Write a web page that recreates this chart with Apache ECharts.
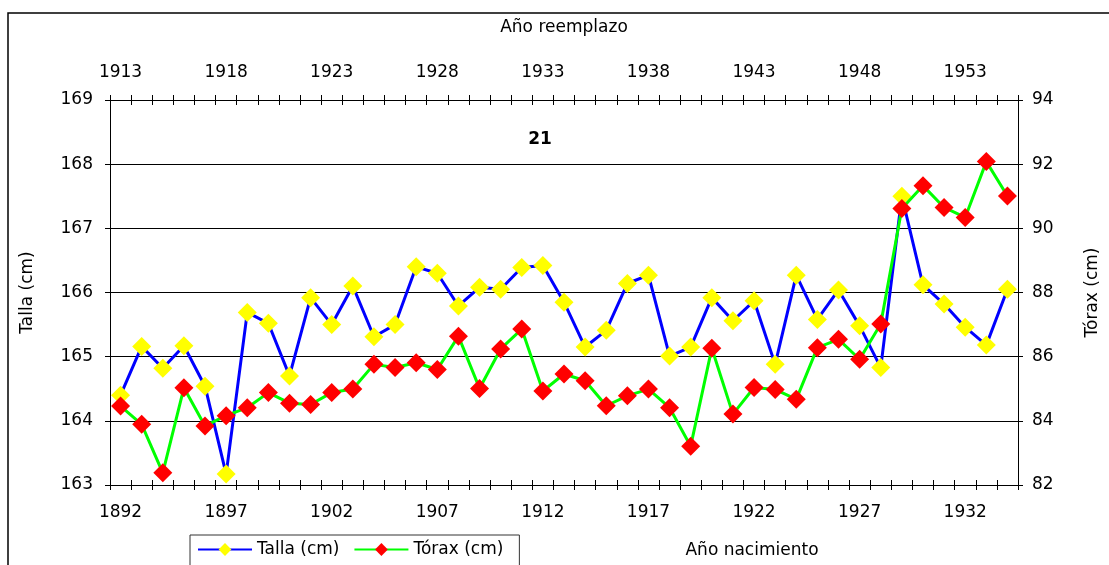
<!DOCTYPE html>
<html>
<head>
<meta charset="utf-8">
<script src="https://cdn.jsdelivr.net/npm/echarts@6/dist/echarts.min.js"></script>
<style>
  html, body { margin: 0; padding: 0; background: #fff; }
  #chart { width: 1109px; height: 565px; }
</style>
</head>
<body>
<div id="chart"></div>
<script>
// año de nacimiento (eje inferior) y año de reemplazo (eje superior, +21)
var anioNac = ['1892','1893','1894','1895','1896','1897','1898','1899','1900','1901',
    '1902','1903','1904','1905','1906','1907','1908','1909','1910','1911',
    '1912','1913','1914','1915','1916','1917','1918','1919','1920','1921',
    '1922','1923','1924','1925','1926','1927','1928','1929','1930','1931',
    '1932','1933','1934'];
var anioReemp = ['1913','1914','1915','1916','1917','1918','1919','1920','1921','1922',
    '1923','1924','1925','1926','1927','1928','1929','1930','1931','1932',
    '1933','1934','1935','1936','1937','1938','1939','1940','1941','1942',
    '1943','1944','1945','1946','1947','1948','1949','1950','1951','1952',
    '1953','1954','1955'];
// talla media (cm), eje izquierdo
var talla = [164.40, 165.16, 164.82, 165.17, 164.54, 163.17, 165.69, 165.52, 164.70, 165.92,
    165.50, 166.10, 165.31, 165.50, 166.40, 166.30, 165.79, 166.08, 166.05, 166.39,
    166.42, 165.85, 165.15, 165.41, 166.14, 166.27, 165.01, 165.15, 165.92, 165.56,
    165.87, 164.88, 166.27, 165.58, 166.04, 165.48, 164.83, 167.50, 166.12, 165.82,
    165.46, 165.18, 166.05];
// perímetro torácico medio (cm), eje derecho
var torax = [84.46, 83.89, 82.38, 85.03, 83.84, 84.16, 84.41, 84.88, 84.55, 84.51,
    84.88, 84.99, 85.76, 85.66, 85.81, 85.60, 86.64, 85.01, 86.24, 86.86,
    84.93, 85.46, 85.25, 84.47, 84.78, 84.99, 84.41, 83.21, 86.26, 84.21,
    85.04, 84.98, 84.67, 86.28, 86.54, 85.92, 87.02, 90.62, 91.33, 90.65,
    90.34, 92.08, 91.01];

var FONT = 'DejaVu Sans';
var FS = 17;
var chart = echarts.init(document.getElementById('chart'));

var txt = {color: '#000', fontFamily: FONT, fontSize: FS};

function xAx(pos, labels, inside, show) {
    return {
        type: 'category',
        position: pos,
        data: anioNac,
        boundaryGap: true,
        axisLine: {show: true, lineStyle: {color: '#000', width: 1}},
        axisTick: {show: true, interval: 0, inside: inside, length: 5, lineStyle: {color: '#000'}},
        axisLabel: show ? {
            show: true, interval: 4, margin: 19,
            color: '#000', fontFamily: FONT, fontSize: FS,
            formatter: function (v, i) { return labels[i]; }
        } : {show: false},
        splitLine: {show: false}
    };
}

function yAx(pos, min, max, step, inside, show, grid) {
    return {
        type: 'value',
        position: pos,
        min: min, max: max, interval: step,
        axisLine: {show: true, lineStyle: {color: '#000', width: 1}},
        axisTick: {show: true, inside: inside, length: 5, lineStyle: {color: '#000'}},
        axisLabel: show ? {show: true, margin: pos === 'left' ? 17 : 14, color: '#000', fontFamily: FONT, fontSize: FS} : {show: false},
        splitLine: {show: grid, lineStyle: {color: '#000', width: 1}}
    };
}

var xBottom = xAx('bottom', anioNac, false, true);
var xTop = xAx('top', anioReemp, false, true);
xTop.name = 'Año reemplazo';
xTop.nameLocation = 'middle';
xTop.nameGap = 64;
xTop.nameTextStyle = txt;

var yLeft = yAx('left', 163, 169, 1, false, true, true);
yLeft.name = 'Talla (cm)';
yLeft.nameLocation = 'middle';
yLeft.nameGap = 74;
yLeft.nameRotate = 90;
yLeft.nameTextStyle = txt;

var yRight = yAx('right', 82, 94, 2, false, true, false);
yRight.name = 'Tórax (cm)';
yRight.nameLocation = 'middle';
yRight.nameGap = 66;
yRight.nameRotate = 90;
yRight.nameTextStyle = txt;

var option = {
    backgroundColor: '#fff',
    animation: false,
    textStyle: {fontFamily: FONT},
    graphic: [
        {
            type: 'rect', x: 8, y: 13, silent: true, z: -1,
            shape: {x: 0, y: 0, width: 1200, height: 700},
            style: {fill: 'none', stroke: '#000', lineWidth: 1.5}
        },
        {
            type: 'text', x: 540, y: 140, silent: true,
            style: {text: '21', fill: '#000', font: 'bold ' + FS + 'px "' + FONT + '"', textAlign: 'center', textVerticalAlign: 'middle'}
        },
        {
            type: 'text', x: 752, y: 551, silent: true,
            style: {text: 'Año nacimiento', fill: '#000', font: FS + 'px "' + FONT + '"', textAlign: 'center', textVerticalAlign: 'middle'}
        }
    ],
    legend: {
        left: 190, top: 535,
        orient: 'horizontal',
        padding: [6, 16, 8, 7],
        itemGap: 14,
        itemWidth: 54, itemHeight: 16,
        borderColor: '#333', borderWidth: 1,
        textStyle: txt,
        data: ['Talla (cm)', 'Tórax (cm)']
    },
    grid: {left: 110, right: 88, top: 100, bottom: 80, containLabel: false},
    xAxis: [xBottom, xTop, xAx('bottom', anioNac, true, false), xAx('top', anioReemp, true, false)],
    yAxis: [yLeft, yRight, yAx('left', 163, 169, 1, true, false, false), yAx('right', 82, 94, 2, true, false, false)],
    series: [
        {
            name: 'Talla (cm)',
            type: 'line',
            xAxisIndex: 0, yAxisIndex: 0,
            data: talla,
            showAllSymbol: true,
            symbol: 'diamond', symbolSize: 19,
            lineStyle: {color: '#0000ff', width: 3},
            itemStyle: {color: '#ffff00'},
            z: 3
        },
        {
            name: 'Tórax (cm)',
            type: 'line',
            xAxisIndex: 0, yAxisIndex: 1,
            data: torax,
            showAllSymbol: true,
            symbol: 'diamond', symbolSize: 19,
            lineStyle: {color: '#00ff00', width: 3},
            itemStyle: {color: '#ff0000'},
            z: 4
        }
    ]
};
chart.setOption(option);
</script>
</body>
</html>
